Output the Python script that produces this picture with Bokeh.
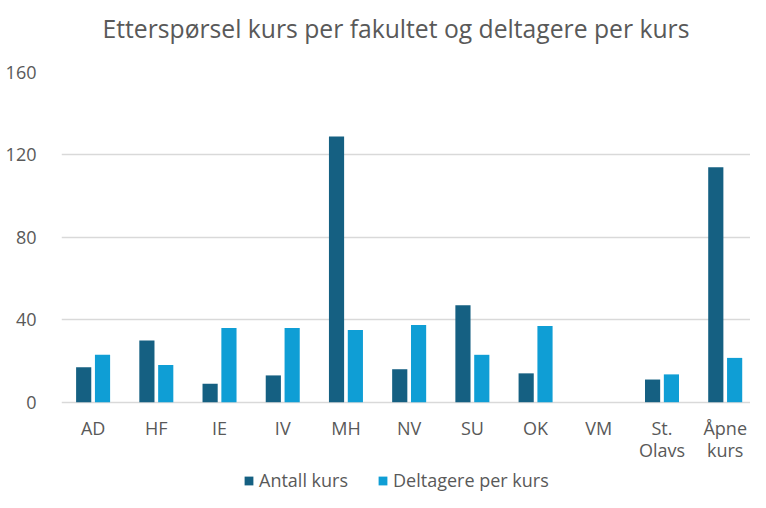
from bokeh.plotting import figure
from bokeh.models import ColumnDataSource, Range1d, FixedTicker, Legend, LegendItem, Title
from bokeh.core.properties import value
from bokeh.transform import dodge
from bokeh.embed import file_html
from bokeh.resources import INLINE

categories = ["AD", "HF", "IE", "IV", "MH", "NV", "SU", "OK", "VM", "St. Olavs", "Åpne kurs"]
category_labels = ["AD", "HF", "IE", "IV", "MH", "NV", "SU", "OK", "VM", "St.\nOlavs", "Åpne\nkurs"]
antall_kurs = [17, 30, 9, 13, 129, 16, 47, 14, 0, 11, 114]
deltagere_per_kurs = [23, 18, 36, 36, 35, 37.5, 23, 37, 0, 13.5, 21.5]
y_ticks = [0, 40, 80, 120, 160]
series_names = ["Antall kurs", "Deltagere per kurs"]
colors = ["#156082", "#0F9ED5"]

FONT = "Open Sans"
TXT = "#595959"

W, H = 750, 492
TOP, ZERO_PX = 72, 401.7          # frame top and the pixel row of value 0
y_max = y_ticks[-1]
y_min = -y_max * (H - ZERO_PX) / (ZERO_PX - TOP)

pos = [i + 0.5 for i in range(len(categories))]
src = ColumnDataSource(dict(x=pos, base=[0] * len(categories), lab=category_labels,
                            a=antall_kurs, d=deltagere_per_kurs))

p = figure(width=W, height=H, output_backend="svg", toolbar_location=None,
           x_range=Range1d(0, 10.9), y_range=Range1d(y_min, y_max),
           x_axis_location=None,
           min_border_left=61, min_border_right=0, min_border_top=TOP, min_border_bottom=0)

spacer = Title(text=" ", text_font_size="19px", standoff=0)
p.add_layout(spacer, "above")

p.title.text = "Etterspørsel kurs per fakultet og deltagere per kurs"
p.title.align = "left"
p.title.offset = 41
p.title.text_font = FONT
p.title.text_font_size = "24.7px"
p.title.text_font_style = "normal"
p.title.text_color = TXT

r1 = p.vbar(x=dodge("x", -0.149, range=p.x_range), top="a", width=0.24, source=src,
            fill_color=colors[0], line_color=None)
r2 = p.vbar(x=dodge("x", 0.149, range=p.x_range), top="d", width=0.24, source=src,
            fill_color=colors[1], line_color=None)

# category labels under the zero line
p.text(x="x", y="base", text="lab", source=src, text_align="center", text_baseline="top",
       y_offset=14, text_font=value(FONT), text_font_size=value("18px"),
       text_color=TXT, text_line_height=0.9)

p.outline_line_color = None
p.xgrid.grid_line_color = None
p.ygrid.grid_line_color = "#D9D9D9"
p.ygrid.grid_line_width = 1.5
p.yaxis.ticker = FixedTicker(ticks=y_ticks)
ax = p.yaxis[0]
ax.axis_line_color = None
ax.major_tick_line_color = None
ax.minor_tick_line_color = None
ax.major_label_text_font = FONT
ax.major_label_text_font_size = "18px"
ax.major_label_text_color = TXT
ax.major_label_standoff = 19

legend = Legend(items=[LegendItem(label=series_names[0], renderers=[r1]),
                       LegendItem(label=series_names[1], renderers=[r2])],
                orientation="horizontal", location=(182, 0),
                glyph_width=11, glyph_height=11, label_standoff=5, spacing=29,
                padding=0, margin=0, border_line_color=None, background_fill_alpha=0,
                label_text_font=FONT, label_text_font_size="18px", label_text_color=TXT)
p.add_layout(legend, "center")

open("out.html", "w").write(file_html(p, INLINE))
